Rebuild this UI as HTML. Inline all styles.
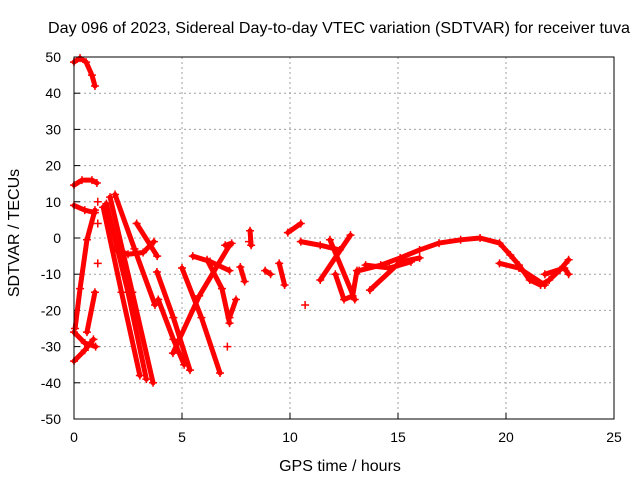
<!DOCTYPE html>
<html><head><meta charset="utf-8"><style>
html,body{margin:0;padding:0;background:#fff;}
svg{display:block;font-family:"Liberation Sans",sans-serif;}
</style></head><body>
<svg id="chart" width="640" height="480" viewBox="0 0 640 480">
<text x="339" y="33" font-size="16" text-anchor="middle" textLength="582" lengthAdjust="spacingAndGlyphs">Day 096 of 2023, Sidereal Day-to-day VTEC variation (SDTVAR) for receiver tuva</text>
<text x="19" y="233" font-size="16" text-anchor="middle" transform="rotate(-90 19 233)">SDTVAR / TECUs</text>
<text x="340" y="471" font-size="16" text-anchor="middle">GPS time / hours</text>
<g id="grid"></g>
<g id="ticks"></g>
<g id="marks"></g>
<rect x="74" y="57" width="540" height="362" fill="none" stroke="#000" stroke-width="1"/>
</svg>
<script>
const xTicks=[0,5,10,15,20,25];
const yTicks=[-50,-40,-30,-20,-10,0,10,20,30,40,50];
const tracks=[
[[0,48.6],[0.28,49.7],[0.56,48.6],[0.83,45],[0.97,42]],
[[0,14.6],[0.37,16],[0.83,16],[1.06,15.2]],
[[0,9],[0.5,7.7],[0.97,7]],
[[0.05,-25],[0.28,-14],[0.6,-0.5],[0.97,7.7]],
[[0,-26],[0.5,-29],[1,-30]],
[[0,-34],[0.5,-31],[0.9,-28]],
[[0.6,-26],[0.97,-15]],
[[1.35,8.5],[2.2,-15],[3.05,-38]],
[[1.5,9.5],[2.5,-15],[3.35,-39]],
[[1.67,11.3],[2.7,-15],[3.66,-40]],
[[1.9,12],[2.8,-3],[3.75,-18.5]],
[[1.9,-3],[2.5,-4.5],[3.2,-4],[3.7,-1]],
[[2.9,4],[3.85,-5]],
[[3.84,-9.4],[4.6,-22],[5.37,-36.5]],
[[3.9,-17],[4.6,-28],[5.1,-35]],
[[4.58,-31.8],[5.8,-16],[7.2,-2]],
[[5,-8.3],[5.9,-22],[6.76,-37.3]],
[[5.5,-5],[6.3,-6.5],[7.2,-9]],
[[6.16,-6],[6.85,-14],[7.2,-23.5]],
[[7.0,-2],[7.3,-1.5]],
[[7.2,-22],[7.5,-17]],
[[7.7,-8],[7.9,-12]],
[[8.15,2],[8.2,-2]],
[[8.85,-9],[9.1,-10]],
[[9.5,-7],[9.75,-13]],
[[9.9,1.5],[10.5,4]],
[[10.5,-1],[11.4,-2],[12.3,-3.3]],
[[11.4,-11.6],[12.8,0.8]],
[[11.85,-0.5],[13,-17]],
[[12.1,-10],[12.5,-17],[12.9,-16],[13.1,-9]],
[[13.2,-9],[14.2,-7.5],[15.1,-5.5],[16,-3.3],[16.9,-1.4],[17.9,-0.5],[18.8,0],[19.7,-1.4],[20.2,-4.7],[20.6,-7.5],[21.1,-11.6],[21.6,-13],[22,-11.6],[22.5,-8.8],[22.9,-6]],
[[13.7,-14.4],[15.1,-6.6],[16,-5.5]],
[[13.5,-7.5],[14.6,-8.3],[15.6,-6.6]],
[[19.7,-7],[20.6,-8.3],[21.8,-13]],
[[21.8,-10],[22.7,-8.3],[22.9,-10]]
];
const singles=[[1.1,10],[1.1,4],[1.1,-7],[10.7,-18.5],[8.1,-1],[7.1,-30]];
const X0=74,X1=614,Y0=419,Y1=57;
function sx(h){return X0+(h-0)/(25-0)*(X1-X0);}
function sy(v){return Y0-(v+50)/100*(Y0-Y1);}
const NS="http://www.w3.org/2000/svg";
const grid=document.getElementById('grid'),ticks=document.getElementById('ticks'),marks=document.getElementById('marks');
function mk(tag,attrs,parent){const e=document.createElementNS(NS,tag);for(const k in attrs)e.setAttribute(k,attrs[k]);parent.appendChild(e);return e;}
xTicks.forEach(t=>{
  const x=sx(t);
  if(t>0&&t<25){const g=mk('line',{x1:x,y1:Y1,x2:x,y2:Y0,stroke:'#a0a0a0','stroke-dasharray':'2,3'},grid);
  
  }
  const l=mk('line',{x1:x,y1:Y0,x2:x,y2:Y0-6,stroke:'#000'},ticks);
  
  
  const tx=mk('text',{x:x,y:Y0+23,'font-size':14,'text-anchor':'middle'},ticks);tx.textContent=t;
  
  
});
yTicks.forEach(t=>{
  const y=sy(t);
  if(t>-50&&t<50){const g=mk('line',{x1:X0,y1:y,x2:X1,y2:y,stroke:'#a0a0a0','stroke-dasharray':'2,3'},grid);
  
  }
  const l=mk('line',{x1:X0,y1:y,x2:X0+6,y2:y,stroke:'#000'},ticks);
  
  
  const tx=mk('text',{x:61,y:y+5,'font-size':14,'text-anchor':'end'},ticks);tx.textContent=t;
  
  
});
function plus(h,v,name){
  const x=sx(h),y=sy(v);
  const p=mk('path',{d:`M${x-4},${y}H${x+4}M${x},${y-4}V${y+4}`,stroke:'#f00','stroke-width':1.5,fill:'none'},marks);
  
  
}
tracks.forEach(tr=>{
  const d=tr.map((p,i)=>(i?'L':'M')+sx(p[0])+','+sy(p[1])).join('');
  const pl=mk('path',{d:d,stroke:'#f00','stroke-width':5,fill:'none','stroke-linejoin':'round','stroke-linecap':'round'},marks);
  
  
  tr.forEach(p=>plus(p[0],p[1],'sdtvar-point'));
});
singles.forEach(p=>plus(p[0],p[1],'sdtvar-point'));
</script>
</body></html>
